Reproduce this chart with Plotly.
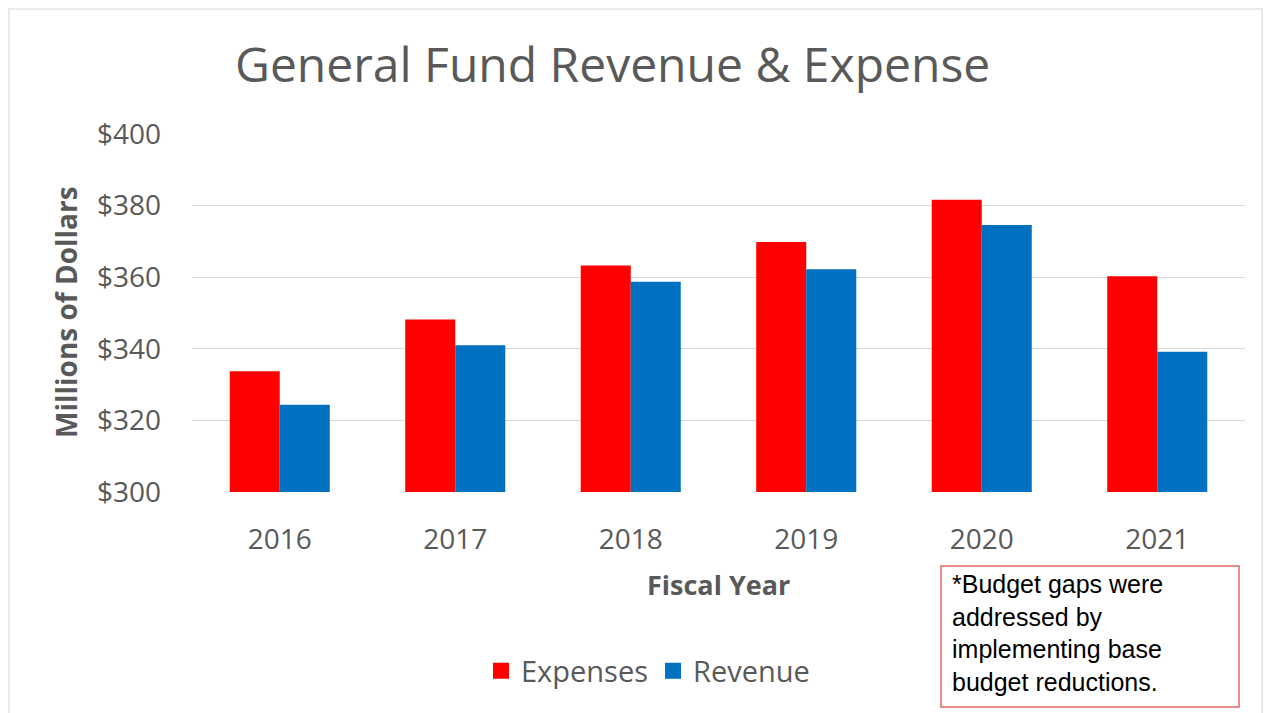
import plotly.graph_objects as go

years = ["2016", "2017", "2018", "2019", "2020", "2021"]
expenses = [333.7, 348.2, 363.3, 369.8, 381.6, 360.3]
revenue = [324.4, 341.0, 358.7, 362.2, 374.6, 339.2]
y_ticks = [300, 320, 340, 360, 380, 400]
y_labels = ["$300", "$320", "$340", "$360", "$380", "$400"]

OFF = 8  # page body margin
W, H = 1273 - OFF, 713 - OFF
L, R, T, B = 192 - OFF, 1245 - OFF, 134 - OFF, 492 - OFF

def px(x):
    return (x - OFF - L) / (R - L)

def py(y):
    return (B - (y - OFF)) / (B - T)

gray = "#595959"
red = "#FF0000"
blue = "#0070C0"

fig = go.Figure()
fig.add_trace(go.Bar(x=years, y=expenses, name="Expenses", marker_color=red,
                     marker_line_width=0, showlegend=False))
fig.add_trace(go.Bar(x=years, y=revenue, name="Revenue", marker_color=blue,
                     marker_line_width=0, showlegend=False))
# legend entries with larger square swatches
fig.add_trace(go.Scatter(x=[None], y=[None], mode="markers", name="Expenses",
                         marker=dict(symbol="square", size=17, color=red)))
fig.add_trace(go.Scatter(x=[None], y=[None], mode="markers", name="Revenue",
                         marker=dict(symbol="square", size=17, color=blue)))

fig.update_layout(
    width=W, height=H,
    margin=dict(l=L, r=W - R, t=T, b=H - B, autoexpand=False),
    paper_bgcolor="white", plot_bgcolor="white",
    barmode="group", bargap=0.43, bargroupgap=0,
    font=dict(family="Open Sans", color=gray),
    showlegend=True,
    legend=dict(orientation="h", x=px(648), xanchor="center", y=py(671), yanchor="middle",
                font=dict(size=29, color=gray), itemsizing="trace", itemwidth=30,
                bgcolor="rgba(0,0,0,0)"),
)
fig.update_xaxes(showgrid=False, showline=False, zeroline=False,
                 tickfont=dict(size=28, color=gray), ticks="", ticklabelstandoff=28)
fig.update_yaxes(range=[300, 400], tickvals=y_ticks, ticktext=y_labels,
                 showgrid=True, gridcolor="#d9d9d9", gridwidth=1, zeroline=False,
                 showline=False, tickfont=dict(size=28, color=gray), ticks="",
                 ticklabelstandoff=30)

# Title
fig.add_annotation(text="General Fund Revenue & Expense", xref="paper", yref="paper",
                   x=px(612), y=py(63), xanchor="center", yanchor="middle",
                   showarrow=False, font=dict(size=48, color=gray, family="Open Sans"))
# Axis titles
fig.add_annotation(text="<b>Fiscal Year</b>", xref="paper", yref="paper",
                   x=px(718), y=py(584), xanchor="center", yanchor="middle",
                   showarrow=False, font=dict(size=27, color=gray, family="Open Sans"))
fig.add_annotation(text="<b>Millions of Dollars</b>", xref="paper", yref="paper",
                   x=px(66), y=py(312), xanchor="center", yanchor="middle", textangle=-90,
                   showarrow=False, font=dict(size=28, color=gray, family="Open Sans"))

# Note box
fig.add_shape(type="rect", xref="paper", yref="paper",
              x0=px(941), x1=px(1239), y0=py(707), y1=py(566),
              line=dict(color="#E06666", width=1.5), fillcolor="white")
fig.add_annotation(text="*Budget gaps were<br>addressed by<br>implementing base<br>budget reductions.",
                   xref="paper", yref="paper", x=px(950), y=py(568),
                   xanchor="left", yanchor="top", align="left", showarrow=False,
                   font=dict(size=25, color="black", family="Liberation Sans"))

# Outer chart border (faint)
fig.add_shape(type="rect", xref="paper", yref="paper",
              x0=px(9), x1=px(1262), y0=py(760), y1=py(9),
              line=dict(color="#e3e3e3", width=1.5), layer="below")

fig.write_html("out.html")
